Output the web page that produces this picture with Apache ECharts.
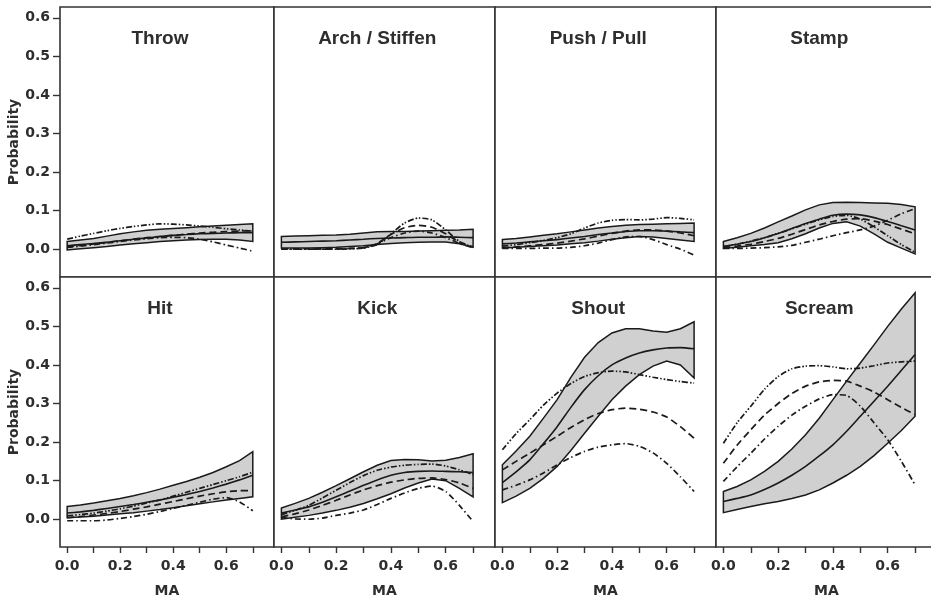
<!DOCTYPE html>
<html>
<head>
<meta charset="utf-8">
<script src="https://cdn.jsdelivr.net/npm/echarts@6/dist/echarts.min.js"></script>
<style>
  html, body { margin: 0; padding: 0; background: #fff; }
  #chart { width: 931px; height: 597px; }
</style>
</head>
<body>
<div id="chart"></div>
<script>
var xs = [0, 0.05, 0.1, 0.15, 0.2, 0.25, 0.3, 0.35, 0.4, 0.45, 0.5, 0.55, 0.6, 0.65, 0.7];
var panelNames = ['Throw', 'Arch / Stiffen', 'Push / Pull', 'Stamp', 'Hit', 'Kick', 'Shout', 'Scream'];
var xTicks = [0, 0.1, 0.2, 0.3, 0.4, 0.5, 0.6, 0.7];
var xLabels = [0, 0.2, 0.4, 0.6];
var yTicks = [0, 0.1, 0.2, 0.3, 0.4, 0.5, 0.6];

// grey band, upper edge (one row per panel)
var upperCI = [
  [.020,.024,.028,.034,.040,.045,.049,.052,.054,.056,.058,.060,.062,.064,.066],
  [.033,.034,.035,.036,.037,.039,.042,.045,.046,.046,.047,.048,.049,.050,.052],
  [.025,.028,.032,.036,.040,.045,.050,.055,.059,.062,.064,.065,.066,.067,.068],
  [.020,.030,.041,.055,.071,.086,.102,.115,.121,.122,.121,.120,.119,.116,.110],
  [.033,.037,.042,.048,.054,.061,.069,.078,.088,.098,.109,.121,.136,.152,.175],
  [.029,.041,.054,.070,.087,.105,.123,.140,.152,.155,.154,.151,.153,.160,.170],
  [.141,.177,.215,.262,.310,.368,.420,.458,.483,.494,.494,.488,.485,.494,.512],
  [.072,.085,.102,.124,.150,.182,.219,.262,.310,.358,.405,.452,.500,.545,.587]
];
// grey band, lower edge
var lowerCI = [
  [-.002,.001,.004,.007,.011,.014,.017,.020,.022,.024,.025,.026,.026,.024,.020],
  [.003,.003,.003,.004,.005,.007,.009,.012,.015,.017,.018,.019,.019,.014,.005],
  [.003,.005,.007,.009,.011,.014,.017,.021,.026,.030,.033,.032,.028,.024,.020],
  [.002,.005,.009,.012,.017,.027,.040,.055,.067,.071,.060,.040,.018,.003,-.012],
  [.004,.006,.008,.011,.014,.017,.021,.025,.030,.035,.040,.045,.050,.054,.058],
  [.000,.005,.010,.016,.023,.031,.041,.053,.066,.081,.094,.104,.100,.080,.058],
  [.043,.060,.080,.106,.137,.178,.223,.267,.310,.345,.375,.397,.410,.400,.366],
  [.017,.025,.033,.040,.046,.054,.063,.076,.094,.114,.137,.165,.197,.230,.267]
];
// solid line
var meanLine = [
  [.009,.012,.015,.018,.022,.026,.029,.033,.036,.038,.040,.041,.042,.043,.043],
  [.018,.019,.020,.021,.022,.024,.026,.028,.029,.030,.031,.031,.032,.031,.030],
  [.014,.016,.019,.022,.025,.029,.033,.038,.042,.046,.048,.048,.047,.045,.043],
  [.007,.013,.020,.030,.041,.054,.067,.078,.088,.091,.089,.082,.072,.061,.050],
  [.016,.019,.023,.028,.033,.038,.044,.050,.057,.064,.072,.081,.091,.102,.114],
  [.016,.024,.032,.044,.058,.073,.088,.102,.114,.121,.124,.125,.124,.123,.121],
  [.095,.123,.154,.196,.240,.290,.336,.372,.400,.418,.431,.439,.444,.445,.442],
  [.046,.054,.063,.077,.094,.114,.137,.164,.193,.228,.267,.306,.345,.386,.427]
];
// dash-dot-dot line
var dotDashLine = [
  [.026,.034,.041,.048,.054,.059,.063,.066,.065,.063,.060,.057,.053,.050,.047],
  [.000,.000,.000,.000,.000,.001,.003,.012,.040,.068,.081,.076,.050,.020,.005],
  [.008,.012,.017,.023,.030,.040,.055,.068,.075,.077,.076,.078,.082,.080,.076],
  [.007,.013,.021,.030,.041,.053,.065,.076,.085,.088,.078,.058,.035,.012,-.008],
  [.009,.012,.016,.021,.027,.034,.042,.050,.060,.070,.080,.090,.100,.110,.122],
  [.012,.023,.036,.055,.075,.095,.113,.127,.135,.140,.142,.143,.138,.128,.116],
  [.180,.222,.258,.296,.327,.352,.370,.380,.384,.382,.375,.368,.362,.357,.353],
  [.197,.250,.293,.337,.370,.390,.397,.398,.395,.390,.392,.398,.405,.408,.410]
];
// dashed line
var dashLine = [
  [.007,.010,.014,.018,.022,.026,.030,.033,.036,.039,.042,.044,.046,.047,.048],
  [.001,.001,.001,.001,.001,.002,.004,.015,.038,.056,.062,.057,.040,.018,.006],
  [.004,.006,.009,.012,.016,.021,.027,.034,.041,.047,.050,.050,.047,.042,.035],
  [.004,.008,.013,.020,.028,.039,.051,.063,.072,.078,.079,.073,.064,.052,.040],
  [.004,.007,.011,.015,.020,.026,.032,.039,.046,.053,.060,.066,.071,.074,.074],
  [.006,.014,.024,.036,.049,.063,.076,.087,.096,.102,.106,.107,.103,.094,.080],
  [.128,.150,.171,.193,.215,.238,.258,.274,.284,.288,.285,.278,.265,.240,.210],
  [.145,.192,.232,.270,.300,.326,.345,.356,.360,.358,.345,.330,.310,.290,.271]
];
// dash-dot line
var dashDotLine = [
  [.005,.008,.012,.016,.020,.024,.027,.030,.031,.030,.026,.019,.011,.003,-.005],
  [.000,.000,.000,.000,.001,.002,.004,.014,.030,.042,.047,.042,.030,.015,.004],
  [.002,.002,.002,.003,.003,.005,.009,.016,.025,.032,.033,.025,.012,.000,-.015],
  [.002,.002,.003,.004,.006,.010,.018,.026,.035,.043,.050,.060,.075,.092,.105],
  [-.004,-.004,-.004,-.002,.002,.007,.013,.020,.028,.036,.044,.052,.056,.045,.022],
  [.004,.001,.000,.003,.010,.016,.024,.038,.054,.068,.080,.086,.072,.036,-.006],
  [.076,.088,.102,.120,.141,.160,.176,.187,.193,.196,.189,.172,.145,.110,.072],
  [.098,.136,.171,.208,.241,.270,.293,.312,.323,.321,.293,.250,.206,.150,.089]
]

var chart = echarts.init(document.getElementById('chart'));

var colLeft = [60, 274, 495, 716];
var colWidth = [214, 221, 221, 221];
var rowTop = [7, 277];
var panelH = 270;
var xMin = -0.027, xMax = 0.78;
var yMin = -0.072, yMax = 0.628;
var ink = '#1a1a1a';
var textCol = '#2e2e2e';
var tickFont = 'DejaVu Sans';

var grids = [], xAxes = [], yAxes = [], series = [], titles = [];

function pairs(arr) {
  return xs.map(function (x, k) { return [x, arr[k]]; });
}

for (var i = 0; i < 8; i++) {
  var row = Math.floor(i / 4), col = i % 4;
  var bottomRow = row === 1, leftCol = col === 0;
  grids.push({
    left: colLeft[col], top: rowTop[row], width: colWidth[col], height: panelH,
    outerBoundsMode: 'none', containLabel: false,
    show: true, borderColor: '#333', borderWidth: 1.6, backgroundColor: '#fff'
  });
  xAxes.push({
    gridIndex: i, type: 'value', min: xMin, max: xMax, position: 'bottom',
    axisLine: { show: false, onZero: false },
    splitLine: { show: false },
    axisTick: { show: bottomRow, customValues: xTicks, length: 6, lineStyle: { color: '#333', width: 1.4 } },
    axisLabel: {
      show: bottomRow, customValues: xLabels, margin: 12,
      color: textCol, fontFamily: tickFont, fontWeight: 'bold', fontSize: 14,
      formatter: function (v) { return v.toFixed(1); }
    },
    name: bottomRow ? 'MA' : '', nameLocation: 'middle', nameGap: 37,
    nameTextStyle: { color: textCol, fontFamily: tickFont, fontWeight: 'bold', fontSize: 14 }
  });
  yAxes.push({
    gridIndex: i, type: 'value', min: yMin, max: yMax, position: 'left',
    axisLine: { show: false, onZero: false },
    splitLine: { show: false },
    axisTick: { show: leftCol, customValues: yTicks, length: 7, lineStyle: { color: '#333', width: 1.4 } },
    axisLabel: {
      show: leftCol, customValues: yTicks, margin: 10,
      color: textCol, fontFamily: tickFont, fontWeight: 'bold', fontSize: 14,
      formatter: function (v) { return v.toFixed(1); }
    },
    name: leftCol ? 'Probability' : '', nameLocation: 'middle', nameGap: 34,
    nameTextStyle: { color: textCol, fontFamily: tickFont, fontWeight: 'bold', fontSize: 14 }
  });

  // panel title centred over the data range
  var scale = colWidth[col] / (xMax - xMin);
  titles.push({
    text: panelNames[i],
    left: colLeft[col] + (0.35 - xMin) * scale,
    top: rowTop[row] + 22,
    textAlign: 'center',
    padding: 0,
    textStyle: { color: textCol, fontFamily: 'Liberation Sans', fontWeight: 'bold', fontSize: 19 }
  });

  // grey confidence band as one polygon
  (function (up, lo) {
    series.push({
      type: 'custom', xAxisIndex: i, yAxisIndex: i, data: [0], silent: true, z: 2,
      renderItem: function (params, api) {
        var pts = [];
        for (var k = 0; k < xs.length; k++) pts.push(api.coord([xs[k], up[k]]));
        for (var k2 = xs.length - 1; k2 >= 0; k2--) pts.push(api.coord([xs[k2], lo[k2]]));
        return {
          type: 'polygon', shape: { points: pts },
          style: { fill: '#d0d0d0', stroke: ink, lineWidth: 1.5 }
        };
      }
    });
  })(upperCI[i], lowerCI[i]);

  var styles = [
    [meanLine[i], 'solid', 1.6],
    [dotDashLine[i], [6, 2, 1.5, 2, 1.5, 2], 1.7],
    [dashLine[i], [7, 4], 1.7],
    [dashDotLine[i], [6, 3, 1.5, 3], 1.7]
  ];
  styles.forEach(function (s) {
    series.push({
      type: 'line', xAxisIndex: i, yAxisIndex: i, data: pairs(s[0]),
      symbol: 'none', silent: true, z: 3, smooth: 0.2,
      lineStyle: { color: ink, width: s[2], type: s[1] }
    });
  });
}

chart.setOption({
  animation: false,
  backgroundColor: '#fff',
  title: titles,
  grid: grids,
  xAxis: xAxes,
  yAxis: yAxes,
  series: series
});
</script>
</body>
</html>
